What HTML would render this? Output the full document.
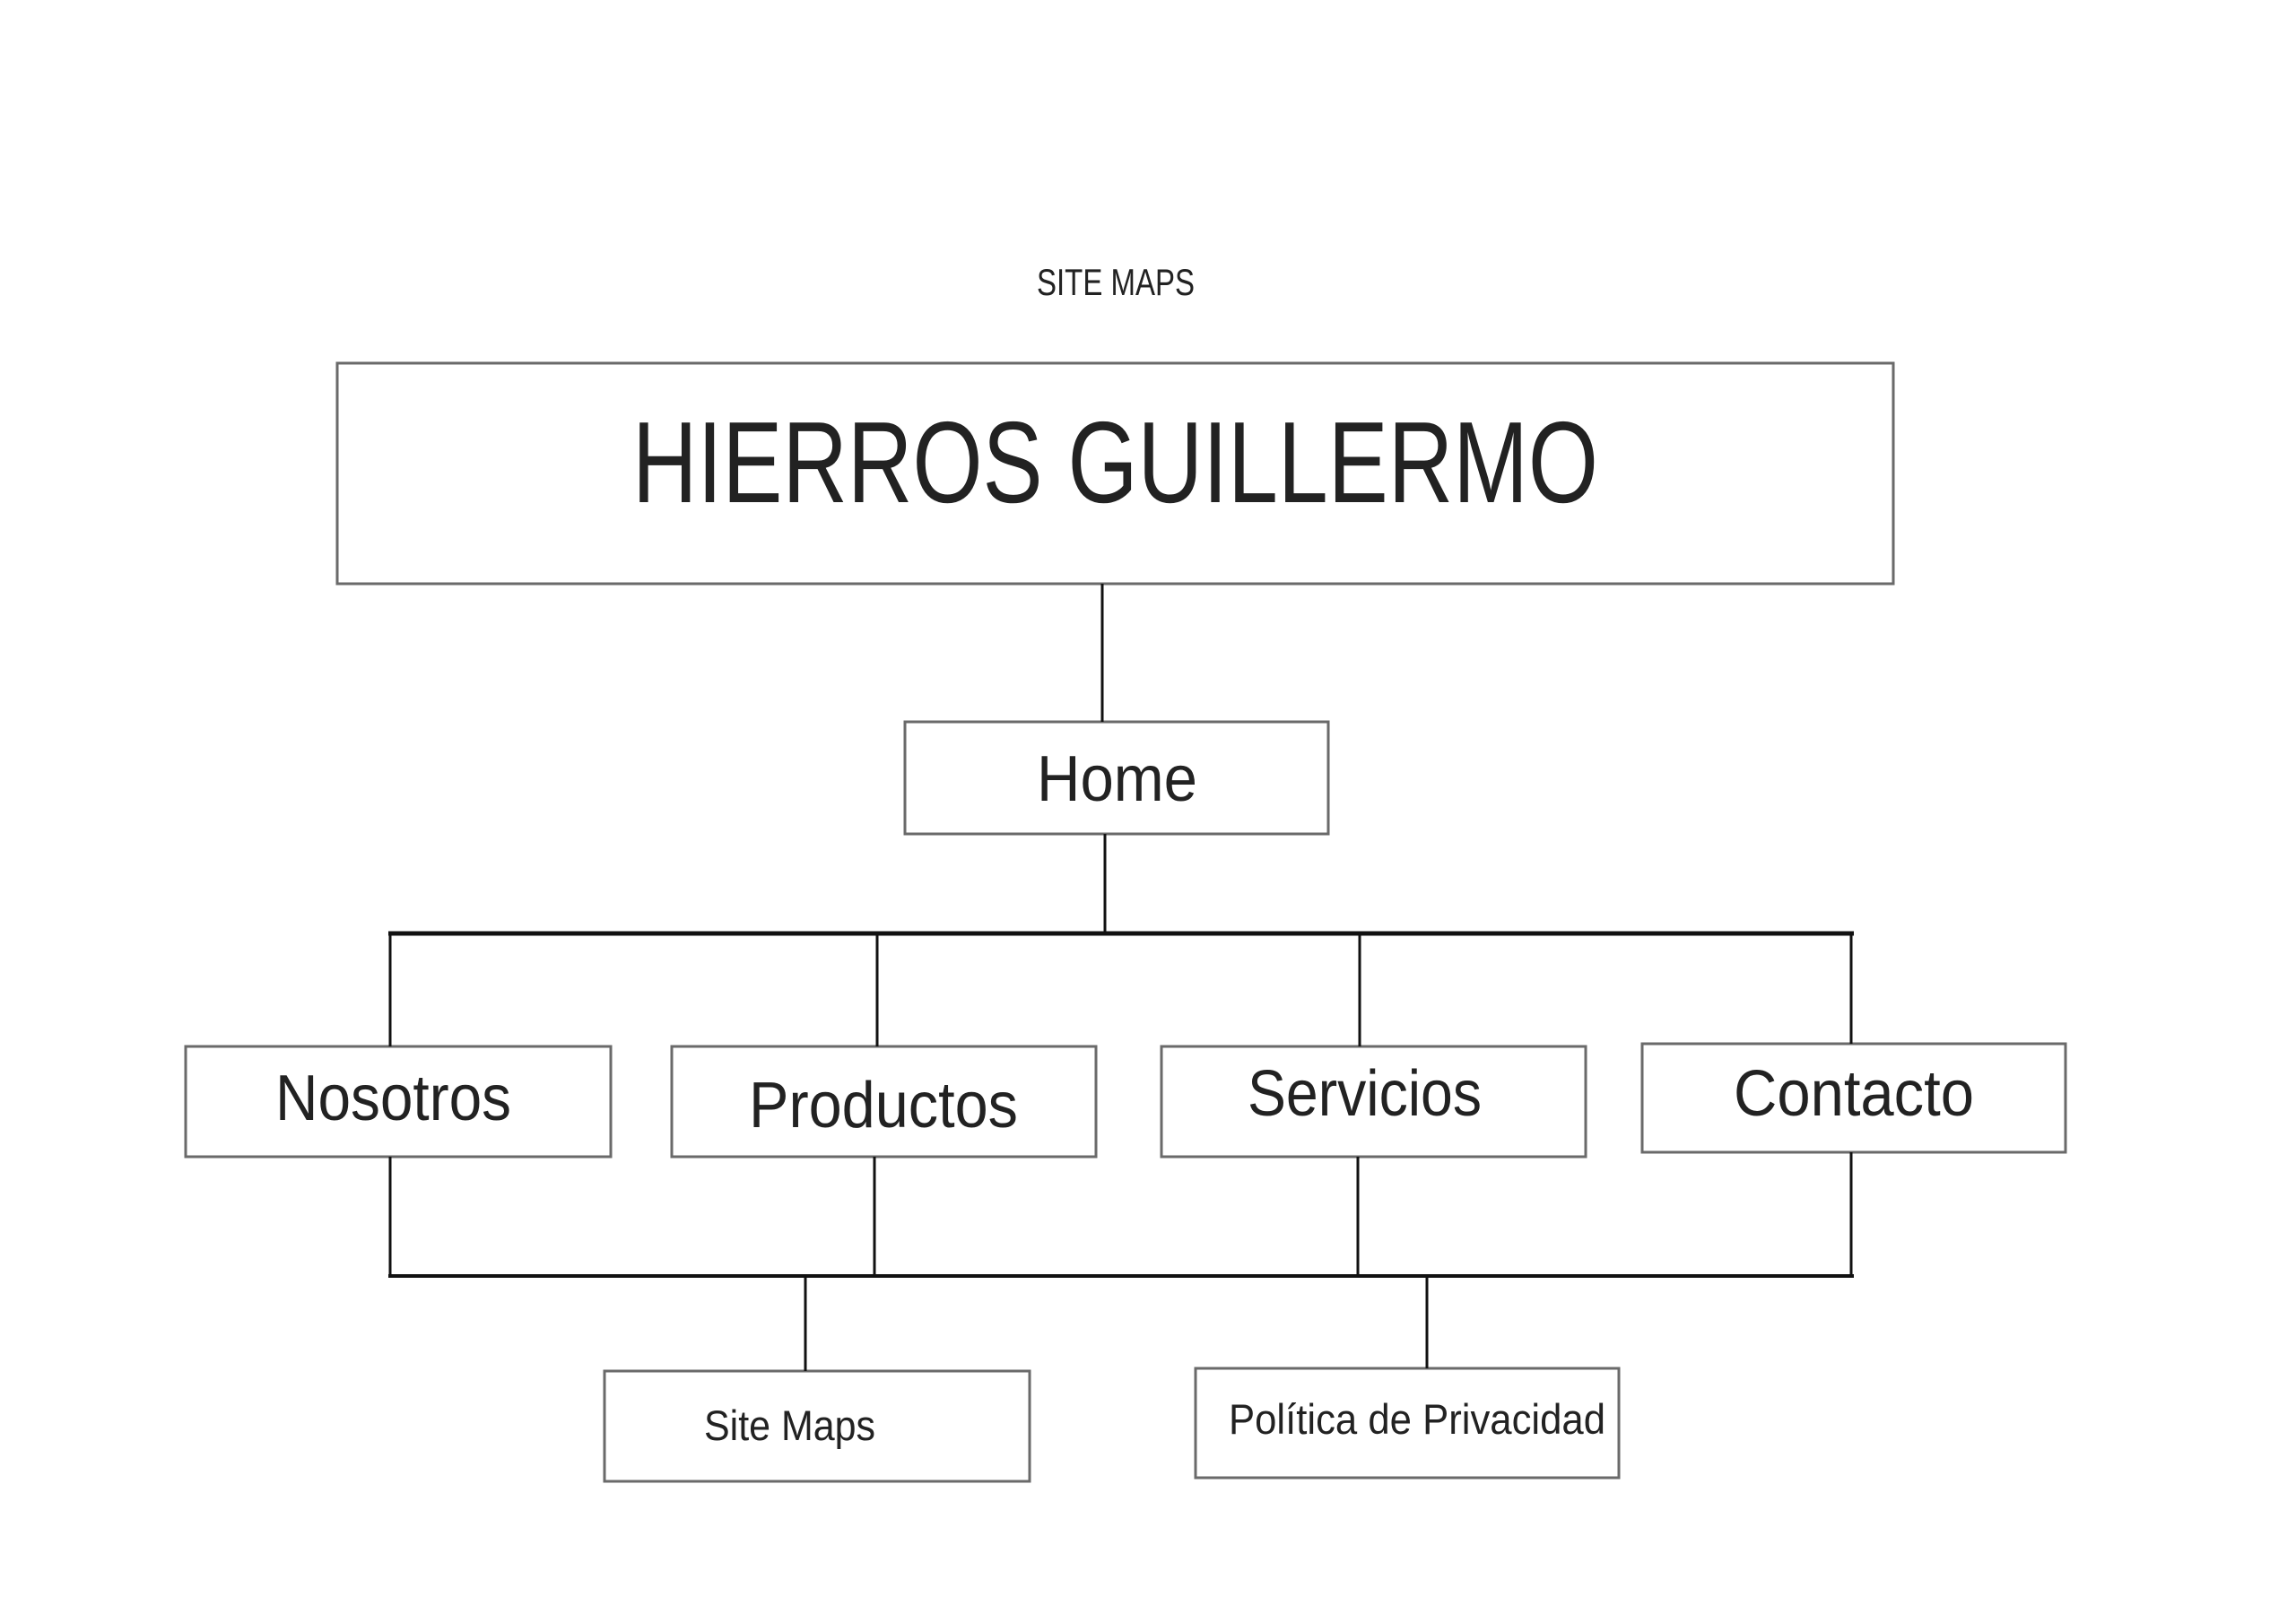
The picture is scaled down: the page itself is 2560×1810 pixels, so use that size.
<!DOCTYPE html>
<html>
<head>
<meta charset="utf-8">
<style>
html,body{margin:0;padding:0;background:#fff;}
svg{display:block;}
text{font-family:"Liberation Sans",sans-serif;fill:#222;}
</style>
</head>
<body>
<svg width="2560" height="1810" viewBox="0 0 2560 1810" xmlns="http://www.w3.org/2000/svg">
<rect width="2560" height="1810" fill="#fff"/>
<text x="1156" y="329" font-size="42" textLength="176" lengthAdjust="spacingAndGlyphs">SITE MAPS</text>

<g fill="none" stroke="#6a6a6a" stroke-width="3">
<rect x="376" y="405" width="1735" height="246"/>
<rect x="1009" y="805" width="472" height="125"/>
<rect x="207" y="1167" width="474" height="123"/>
<rect x="749" y="1167" width="473" height="123"/>
<rect x="1295" y="1167" width="473" height="123"/>
<rect x="1831" y="1164" width="472" height="121"/>
<rect x="674" y="1529" width="474" height="123"/>
<rect x="1333" y="1526" width="472" height="122"/>
</g>

<g stroke="#111" stroke-width="3" fill="none">
<line x1="1229" y1="651" x2="1229" y2="805"/>
<line x1="1232" y1="930" x2="1232" y2="1041"/>
<line x1="433" y1="1041" x2="2067" y2="1041" stroke-width="5"/>
<line x1="435" y1="1041" x2="435" y2="1167"/>
<line x1="978" y1="1041" x2="978" y2="1167"/>
<line x1="1516" y1="1041" x2="1516" y2="1167"/>
<line x1="2064" y1="1041" x2="2064" y2="1164"/>
<line x1="435" y1="1290" x2="435" y2="1423"/>
<line x1="975" y1="1290" x2="975" y2="1423"/>
<line x1="1514" y1="1290" x2="1514" y2="1423"/>
<line x1="2064" y1="1285" x2="2064" y2="1423"/>
<line x1="433" y1="1423" x2="2067" y2="1423" stroke-width="4"/>
<line x1="898" y1="1423" x2="898" y2="1529"/>
<line x1="1591" y1="1423" x2="1591" y2="1526"/>
</g>

<text x="705" y="560" font-size="129" textLength="1077" lengthAdjust="spacingAndGlyphs">HIERROS GUILLERMO</text>
<text x="1156" y="893" font-size="72" textLength="179" lengthAdjust="spacingAndGlyphs">Home</text>
<text x="307" y="1249" font-size="72" textLength="263" lengthAdjust="spacingAndGlyphs">Nosotros</text>
<text x="835" y="1257" font-size="72" textLength="300" lengthAdjust="spacingAndGlyphs">Productos</text>
<text x="1391" y="1244" font-size="72" textLength="261" lengthAdjust="spacingAndGlyphs">Servicios</text>
<text x="1933" y="1244" font-size="72" textLength="268" lengthAdjust="spacingAndGlyphs">Contacto</text>
<text x="785" y="1606" font-size="47" textLength="191" lengthAdjust="spacingAndGlyphs">Site Maps</text>
<text x="1370" y="1599" font-size="47" textLength="420" lengthAdjust="spacingAndGlyphs">Política de Privacidad</text>
</svg>
</body>
</html>
